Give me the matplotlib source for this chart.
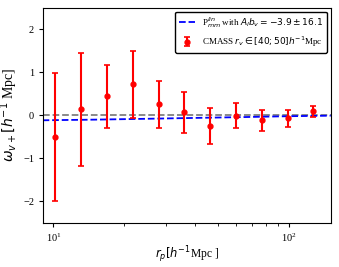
import numpy as np
import matplotlib
matplotlib.use("Agg")
import matplotlib.pyplot as plt

plt.rcParams['font.family'] = ['Liberation Serif', 'DejaVu Serif']

# measured points (CMASS voids, r_v in [40;50])
rp = [10.2, 13.1, 16.9, 21.8, 28.0, 36.0, 46.4, 59.7, 76.8, 99.0, 127.6]
w_vp = [-0.50, 0.14, 0.44, 0.72, 0.26, 0.07, -0.25, -0.01, -0.12, -0.07, 0.09]
w_err = [1.49, 1.32, 0.74, 0.78, 0.55, 0.47, 0.42, 0.29, 0.24, 0.19, 0.13]

# linear model curve
rp_model = [9.0, 15.0, 25.0, 40.0, 65.0, 100.0, 151.0]
w_model = [-0.115, -0.10, -0.08, -0.06, -0.04, -0.02, -0.008]

fig, ax = plt.subplots(figsize=(3.39, 2.67), dpi=100)
fig.subplots_adjust(left=0.127, right=0.9755, bottom=0.166, top=0.970)

ax.axhline(0, color='gray', ls='--', lw=1.3)
ax.plot(rp_model, w_model, color='blue', ls='--', lw=1.3,
        label=r'P$^{lin}_{mm}$ with $A_l b_v = -3.9 \pm 16.1$')
ax.errorbar(rp, w_vp, yerr=w_err, fmt='o', color='red', ms=3.5, lw=1.5,
            capsize=2.5, capthick=1.2,
            label=r'CMASS $r_v \in [40;50] h^{-1}$Mpc')

ax.set_xscale('log')
ax.set_xlim(9.04, 151)
ax.set_ylim(-2.5, 2.5)
ax.set_yticks([-2, -1, 0, 1, 2])
ax.tick_params(labelsize=7.5, length=3)

ax.set_xlabel(r'$r_p[h^{-1}$Mpc ]', fontsize=8.3, labelpad=0.5)
ax.set_ylabel(r'$\omega_{v+}[h^{-1}$ Mpc]', fontsize=10, labelpad=2)

ax.legend(loc='upper right', fontsize=6.5, edgecolor='k', framealpha=1,
          borderaxespad=0.4, handlelength=1.8)

fig.savefig('out.png', dpi=100)
